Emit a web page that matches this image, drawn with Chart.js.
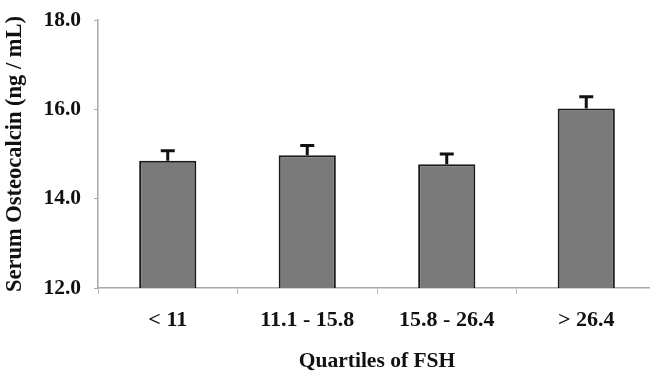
<!DOCTYPE html>
<html>
<head>
<meta charset="utf-8">
<script src="https://cdn.jsdelivr.net/npm/chart.js@4/dist/chart.umd.min.js"></script>
<style>
  html, body { margin: 0; padding: 0; background: #fff; overflow: hidden; }
  #wrap { width: 660px; height: 376px; }
</style>
</head>
<body>
<div id="wrap"><canvas id="fshChart" width="660" height="376"></canvas></div>
<script>
/* global document, Chart */
// 데이터
const quartiles = ['< 11', '11.1 - 15.8', '15.8 - 26.4', '> 26.4'];
const osteocalcin = [14.85, 14.97, 14.77, 16.02];
const osteocalcinErr = [0.22, 0.22, 0.23, 0.26];
const yTicks = [12, 14, 16, 18];

const serif = '"Liberation Serif", "Times New Roman", serif';

// 에러바 (위쪽만)
const errorBars = {
  id: 'errorBars',
  afterDatasetsDraw(chart) {
    const ctx = chart.ctx;
    const y = chart.scales.y;
    const meta = chart.getDatasetMeta(0);
    ctx.save();
    ctx.strokeStyle = '#111';
    ctx.lineWidth = 3;
    meta.data.forEach(function (bar, i) {
      const top = y.getPixelForValue(osteocalcin[i] + osteocalcinErr[i]);
      ctx.beginPath();
      ctx.moveTo(bar.x, bar.y);
      ctx.lineTo(bar.x, top);
      ctx.moveTo(bar.x - 7, top);
      ctx.lineTo(bar.x + 7, top);
      ctx.stroke();
    });
    ctx.restore();
  },
};

new Chart(document.getElementById('fshChart').getContext('2d'), {
  type: 'bar',
  data: {
    labels: quartiles,
    datasets: [
      {
        data: osteocalcin,
        backgroundColor: '#7a7a7a',
        borderColor: '#1a1a1a',
        borderWidth: 2,
        categoryPercentage: 1,
        barPercentage: 0.41,
      },
    ],
  },
  options: {
    responsive: false,
    animation: false,
    layout: { padding: { top: 20, right: 4, left: 0, bottom: 0 } },
    plugins: {
      legend: { display: false },
      tooltip: { enabled: false },
    },
    scales: {
      x: {
        afterFit(scale) { scale.height = 88; },
        grid: {
          drawOnChartArea: false,
          drawTicks: true,
          tickLength: 6,
          color: '#bbb',
          offset: true,
        },
        border: { color: '#aaa', width: 1.5 },
        ticks: {
          color: '#111',
          padding: 13,
          font: { family: serif, size: 22, weight: 'bold' },
        },
        title: {
          display: true,
          text: 'Quartiles of FSH',
          color: '#111',
          padding: { top: 0, bottom: 1.5 },
          font: { family: serif, size: 21.5, weight: 'bold' },
        },
      },
      y: {
        min: 12,
        max: 18,
        afterFit(scale) {
          scale.width = 98;
          scale.paddingTop = 0;
          scale.paddingBottom = 0;
        },
        afterBuildTicks(scale) {
          scale.ticks = yTicks.map(function (v) { return { value: v }; });
        },
        grid: {
          drawOnChartArea: false,
          drawTicks: true,
          tickLength: 4,
          color: '#aaa',
        },
        border: { color: '#aaa', width: 1.5 },
        ticks: {
          color: '#111',
          padding: 13,
          font: { family: serif, size: 21.5, weight: 'bold' },
          callback: function (v) { return Number(v).toFixed(1); },
        },
        title: {
          display: true,
          text: 'Serum Osteocalcin (ng / mL)',
          color: '#111',
          padding: { top: 2, bottom: 0 },
          font: { family: serif, size: 22.5, weight: 'bold' },
        },
      },
    },
  },
  plugins: [errorBars],
});
</script>
</body>
</html>
